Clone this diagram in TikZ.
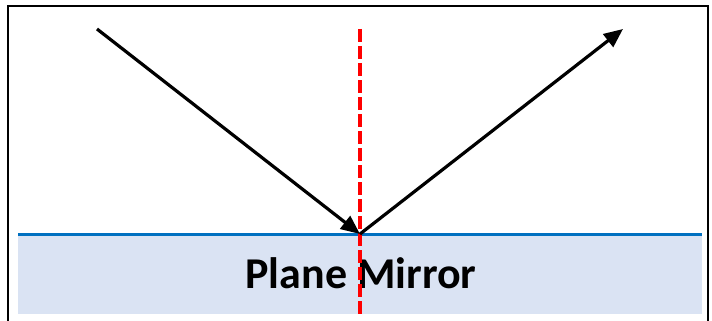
\documentclass[tikz,border=0pt]{standalone}
\usepackage{fontspec}
\setmainfont{Carlito}
\usetikzlibrary{arrows.meta,positioning}
\definecolor{mirrorfill}{HTML}{DAE3F3}
\definecolor{mirrorline}{HTML}{0070C0}

\begin{document}
\begin{tikzpicture}[x=1pt, y=-1pt, >={Triangle[length=19pt, width=16pt]}, ray/.style={->, line width=3.2pt, black}]
\path[use as bounding box] (0,0) rectangle (712,321);
\draw[line width=2.5pt] (8,321) -- (8,6) -- (708,6) -- (708,321);
\fill[mirrorfill] (18,234) rectangle (702,314);
\coordinate (ML) at (18,234.5);
\coordinate (MR) at (702,234.5);
\draw[mirrorline, line width=3.5pt] (ML) -- (MR);
\node[font=\bfseries\fontsize{44}{48}\selectfont, inner sep=0pt, anchor=base] (label) at (361,288) {Plane Mirror};
\coordinate (N1) at (360,29);
\coordinate (N2) at (360,314);
\draw[red, line width=3.2pt, dash pattern=on 13pt off 4pt] (N1) -- (N2);
\coordinate (A) at (97,29);
\coordinate (O) at (360,234);
\coordinate (B) at (623,29);
\path (A) edge[ray] (O);
\path (O) edge[ray] (B);
\end{tikzpicture}
\end{document}
